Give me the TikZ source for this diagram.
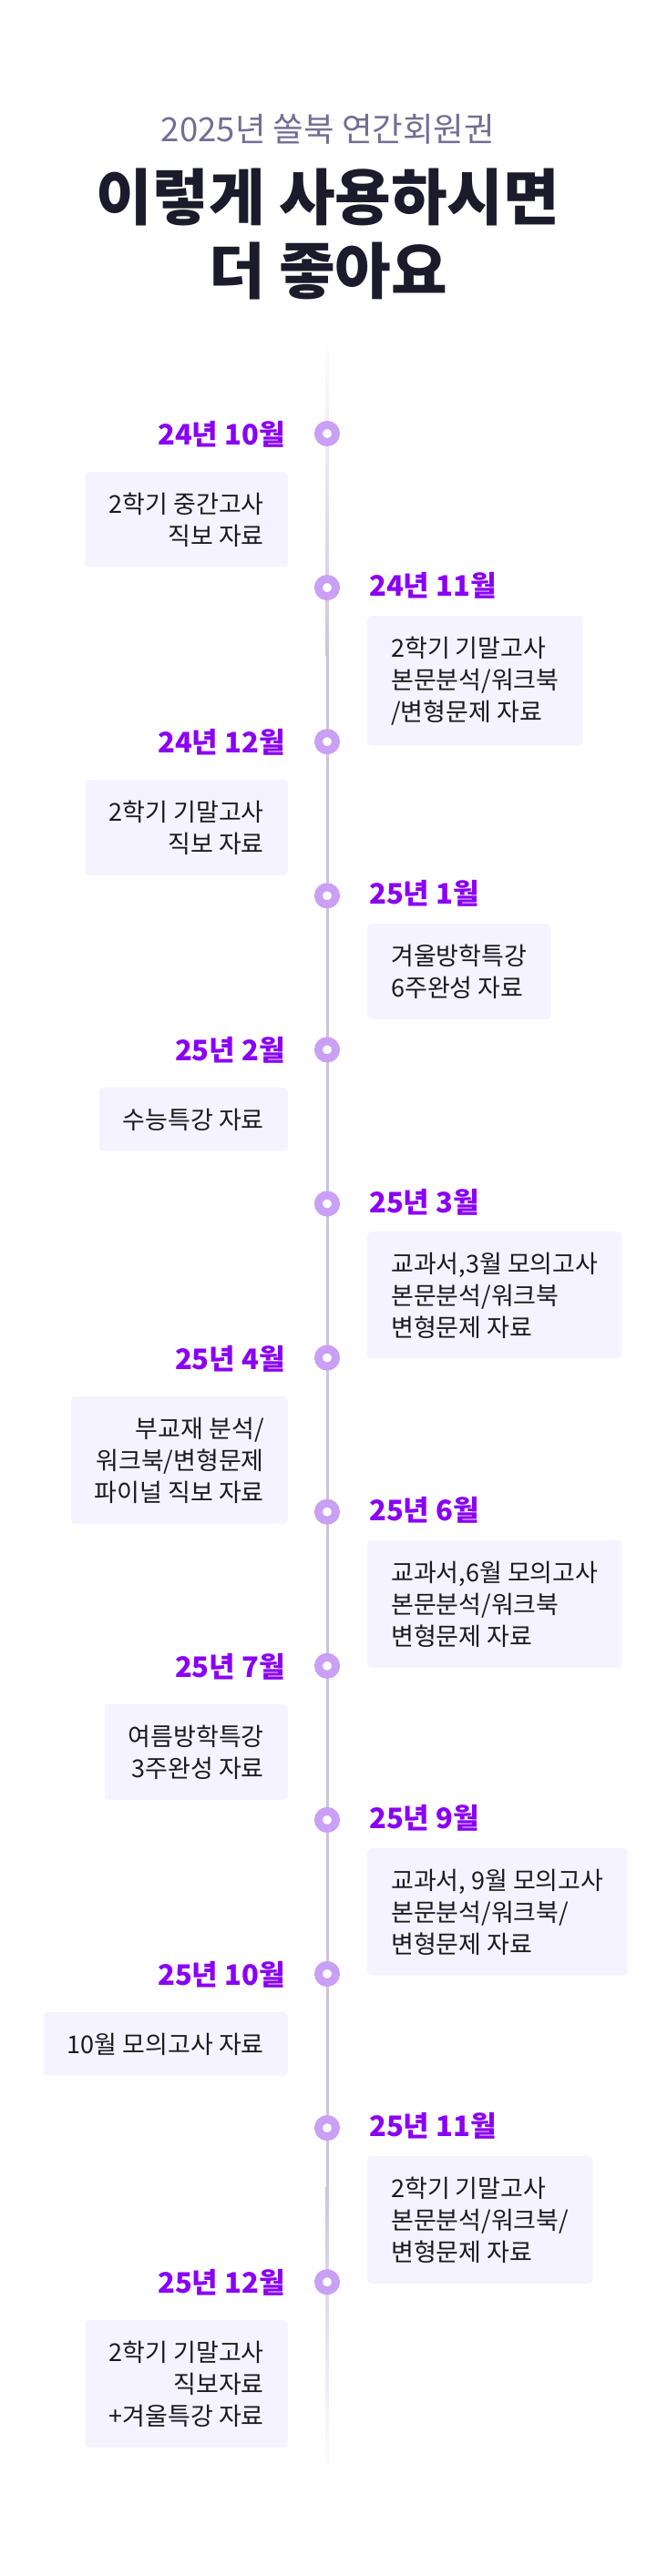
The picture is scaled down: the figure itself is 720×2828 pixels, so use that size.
\documentclass[tikz,border=0pt]{standalone}
\usepackage{fontspec}
\setmainfont{Noto Sans CJK KR}[BoldFont={Noto Sans CJK KR Bold}]
\newfontfamily\heavyfont{Noto Sans CJK KR Black}
\usepackage{tikz}

\definecolor{subgray}{HTML}{716E95}
\definecolor{titleink}{HTML}{1C1B2B}
\definecolor{monthpurple}{HTML}{8A00F5}
\definecolor{ringpurple}{HTML}{C9A0F6}
\definecolor{boxfill}{HTML}{F5F3FF}
\definecolor{linegray}{HTML}{C9C6DA}
\definecolor{noteink}{HTML}{1A1A1F}

\tikzset{
  monthL/.style={anchor=east,inner sep=0pt,text=monthpurple,font=\fontsize{31}{31}\selectfont\heavyfont},
  monthR/.style={anchor=west,inner sep=0pt,text=monthpurple,font=\fontsize{31}{31}\selectfont\heavyfont},
  notebox/.style={fill=boxfill,rounded corners=4pt,inner xsep=26pt,inner ysep=22.5pt,text=noteink,font=\fontsize{27}{35}\selectfont},
  noteL/.style={notebox,anchor=north east,align=right},
  noteR/.style={notebox,anchor=north west,align=left},
  dotring/.style={circle,draw=ringpurple,line width=9pt,fill=white,minimum size=19pt,inner sep=0pt}
}

\begin{document}
\begin{tikzpicture}[x=1pt,y=-1pt]
  \fill[white] (0,0) rectangle (720,2828);
  \useasboundingbox (0,0) rectangle (720,2828);

  \node[text=subgray,font=\fontsize{36.5}{36.5}\selectfont] (subtitle) at (360,142) {2025년 쏠북 연간회원권};
  \node[text=titleink,align=center,font=\fontsize{67}{81}\selectfont\heavyfont] (title) at (360,257) {이렇게 사용하시면\\더 좋아요};

  \shade[top color=white,bottom color=linegray] (357.5,367) rectangle (360.5,720);
  \fill[linegray] (357.5,720) rectangle (360.5,2400);
  \shade[top color=linegray,bottom color=white] (357.5,2400) rectangle (360.5,2717);

  \foreach \k in {0,...,12}
    \node[dotring] (dot\k) at (359,{476+169.1*\k}) {};

  \node[monthL] (m2410) at (313,477) {24년 10월};
  \node[noteL] (n2410) at (316,518) {2학기 중간고사\\직보 자료};
  \node[monthR] (m2411) at (405,643) {24년 11월};
  \node[noteR] (n2411) at (403,676) {2학기 기말고사\\본문분석/워크북\\/변형문제 자료};
  \node[monthL] (m2412) at (313,815) {24년 12월};
  \node[noteL] (n2412) at (316,856) {2학기 기말고사\\직보 자료};
  \node[monthR] (m2501) at (405,981) {25년 1월};
  \node[noteR] (n2501) at (403,1014) {겨울방학특강\\6주완성 자료};
  \node[monthL] (m2502) at (313,1153) {25년 2월};
  \node[noteL] (n2502) at (316,1194) {수능특강 자료};
  \node[monthR] (m2503) at (405,1320) {25년 3월};
  \node[noteR] (n2503) at (403,1352) {교과서,3월 모의고사\\본문분석/워크북\\변형문제 자료};
  \node[monthL] (m2504) at (313,1492) {25년 4월};
  \node[noteL] (n2504) at (316,1533) {부교재 분석/\\워크북/변형문제\\파이널 직보 자료};
  \node[monthR] (m2506) at (405,1658) {25년 6월};
  \node[noteR] (n2506) at (403,1691) {교과서,6월 모의고사\\본문분석/워크북\\변형문제 자료};
  \node[monthL] (m2507) at (313,1830) {25년 7월};
  \node[noteL] (n2507) at (316,1871) {여름방학특강\\3주완성 자료};
  \node[monthR] (m2509) at (405,1996) {25년 9월};
  \node[noteR] (n2509) at (403,2029) {교과서, 9월 모의고사\\본문분석/워크북/\\변형문제 자료};
  \node[monthL] (m2510) at (313,2168) {25년 10월};
  \node[noteL] (n2510) at (316,2209) {10월 모의고사 자료};
  \node[monthR] (m2511) at (405,2334) {25년 11월};
  \node[noteR] (n2511) at (403,2367) {2학기 기말고사\\본문분석/워크북/\\변형문제 자료};
  \node[monthL] (m2512) at (313,2506) {25년 12월};
  \node[noteL] (n2512) at (316,2547) {2학기 기말고사\\직보자료\\+겨울특강 자료};
\end{tikzpicture}
\end{document}
